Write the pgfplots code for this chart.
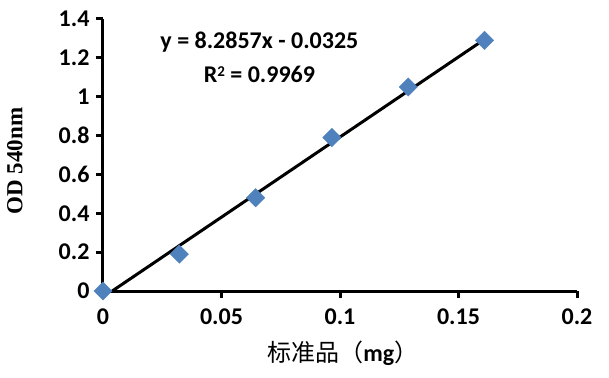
\documentclass[border=0pt]{standalone}
\usepackage{fontspec}
\setmainfont{Carlito}
\newfontfamily\tnr{Liberation Serif}
\newfontfamily\cjk{Noto Sans CJK SC}
\usepackage{pgfplots}
\pgfplotsset{compat=1.18}
\definecolor{exblue}{HTML}{4F81BD}
\begin{document}
\begin{tikzpicture}
\begin{axis}[
  width=474pt, height=272pt, scale only axis,
  xmin=0, xmax=0.2, ymin=0, ymax=1.4,
  axis x line*=bottom, axis y line*=left,
  axis line style={line width=3pt},
  xtick={0,0.05,0.1,0.15,0.2}, xticklabels={0,0.05,0.1,0.15,0.2},
  ytick={0,0.2,0.4,0.6,0.8,1,1.2,1.4}, yticklabels={0,0.2,0.4,0.6,0.8,1,1.2,1.4},
  tick align=outside, major tick length=7pt,
  tick style={line width=3pt, black},
  ticklabel style={font=\fontsize{24}{28}\selectfont\bfseries},
  xticklabel style={yshift=-7pt},
  yticklabel style={xshift=-3pt},
  xlabel={{\cjk 标准品（}\textbf{mg}{\cjk ）}},
  xlabel style={at={(axis description cs:0.506,-0.228)}, anchor=center, font=\fontsize{24}{28}\selectfont},
  ylabel={\tnr\bfseries OD 540nm},
  ylabel style={at={(axis description cs:-0.186,0.478)}, anchor=center, font=\fontsize{23}{26}\selectfont},
  clip=false,
]
\addplot[black, line width=3pt] coordinates {(0.0039,0) (0.161,1.2955)};
\addplot[only marks, mark=square*, mark size=6.5pt, mark options={rotate=45, fill=exblue, draw=exblue}]
  coordinates {(0,0) (0.0322,0.19) (0.0644,0.48) (0.0966,0.79) (0.1288,1.05) (0.161,1.29)};
\node[font=\fontsize{24}{28}\selectfont\bfseries] at (axis cs:0.066,1.28) {y = 8.2857x - 0.0325};
\node[font=\fontsize{24}{28}\selectfont\bfseries] at (axis cs:0.066,1.115) {R\raisebox{0.55ex}{\fontsize{15}{15}\selectfont 2} = 0.9969};
\end{axis}
\path (current axis.south west) ++(-103pt,-86pt) rectangle ++(609pt,377pt);
\end{tikzpicture}
\end{document}
